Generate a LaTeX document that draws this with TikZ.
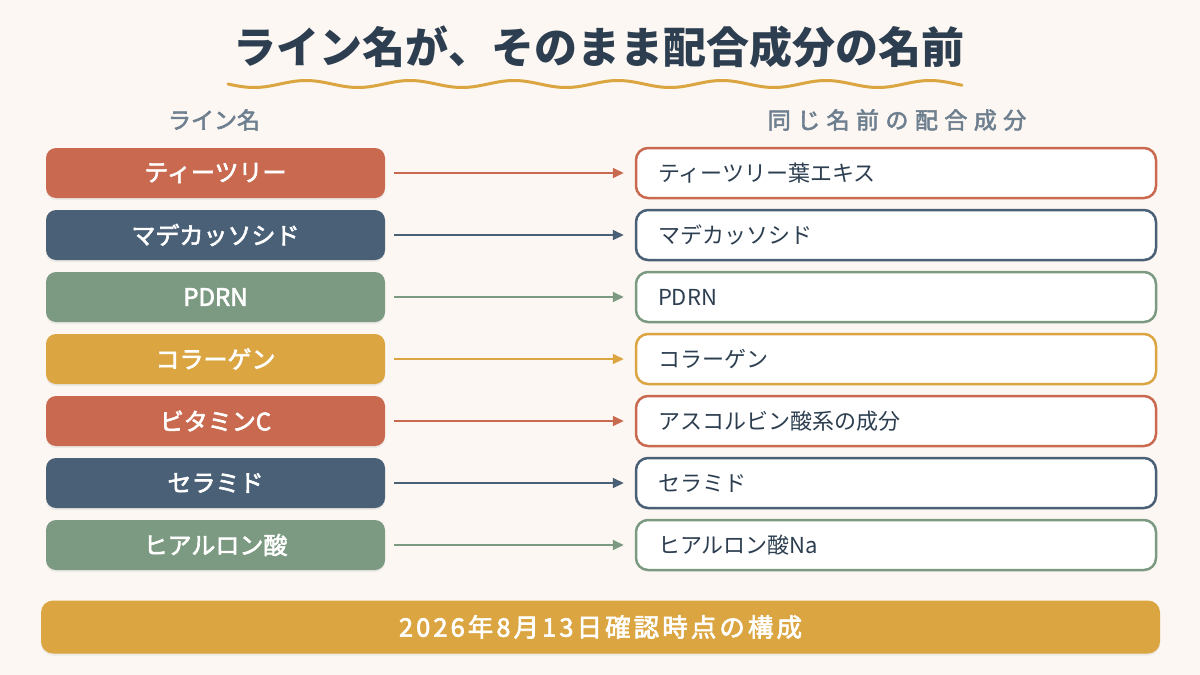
\documentclass[tikz,border=0pt]{standalone}
\usepackage{fontspec}
\setmainfont{Noto Sans CJK JP}
\newfontfamily\medfont[FakeBold=2.5]{Noto Sans CJK JP}
\usetikzlibrary{arrows.meta,shadows}

\definecolor{paper}{HTML}{FCF7F2}
\definecolor{terra}{HTML}{C96A50}
\definecolor{slate}{HTML}{4A6077}
\definecolor{sage}{HTML}{7C9A82}
\definecolor{gold}{HTML}{DBA541}
\definecolor{ink}{HTML}{2C3E50}
\definecolor{headgray}{HTML}{6E7F8F}

\tikzset{
	linebox/.style={fill=#1, rounded corners=10pt, minimum width=339pt, minimum height=50pt,
		text=white, font=\fontsize{24}{28}\selectfont\medfont,
		drop shadow={opacity=0.12, shadow xshift=0pt, shadow yshift=-2pt}},
	ingrbox/.style={draw=#1, fill=white, line width=2.5pt, rounded corners=12pt, minimum height=50pt,
		inner xsep=22pt, text width=476pt, align=left, text=ink, font=\fontsize{22}{26}\selectfont},
	link/.style={draw=#1, line width=2pt, -{Triangle[length=11pt,width=10pt]},
		shorten <=9pt, shorten >=11pt},
	colhead/.style={text=headgray, font=\fontsize{23}{27}\selectfont\medfont}
}

\begin{document}
\begin{tikzpicture}[x=1pt,y=-1pt]{
		\def\rowgap{62}
		\fill[paper] (0,0) rectangle (1200,675);

		\node[text=ink, font=\fontsize{43}{50}\selectfont\bfseries] (title) at (599,47) {ライン名が、そのまま配合成分の名前};
		\draw[gold, line width=3pt, line cap=round] plot[domain=228:962, samples=180, smooth] (\x,{84+3.5*sin(3.4615*(\x-228))});

		\node[colhead] (head_line) at (214,120) {ライン名};
		\node[colhead] (head_ingr) at (897,120) {\addfontfeature{LetterSpace=28}同じ名前の配合成分};

		\foreach \i/\lname/\iname/\col in {
			0/ティーツリー/ティーツリー葉エキス/terra,
			1/マデカッソシド/マデカッソシド/slate,
			2/PDRN/PDRN/sage,
			3/コラーゲン/コラーゲン/gold,
			4/ビタミンC/アスコルビン酸系の成分/terra,
			5/セラミド/セラミド/slate,
			6/ヒアルロン酸/ヒアルロン酸Na/sage}
		{
				\pgfmathsetmacro{\rowy}{173+\rowgap*\i}
				\node[linebox=\col] (line_\i) at (215.5,\rowy) {\lname};
				\node[ingrbox=\col] (ingr_\i) at (896,\rowy) {\iname};
				\draw[link=\col] (line_\i) -- (ingr_\i);
		}

		\node[fill=gold, rounded corners=12pt, minimum width=1119pt, minimum height=53pt,
			text=white, font=\fontsize{25.5}{30}\selectfont\medfont\addfontfeature{LetterSpace=12},
			drop shadow={opacity=0.12, shadow xshift=0pt, shadow yshift=-2pt}] (date_bar) at (600.5,627) {2026年8月13日確認時点の構成};

	}\end{tikzpicture}
\end{document}
